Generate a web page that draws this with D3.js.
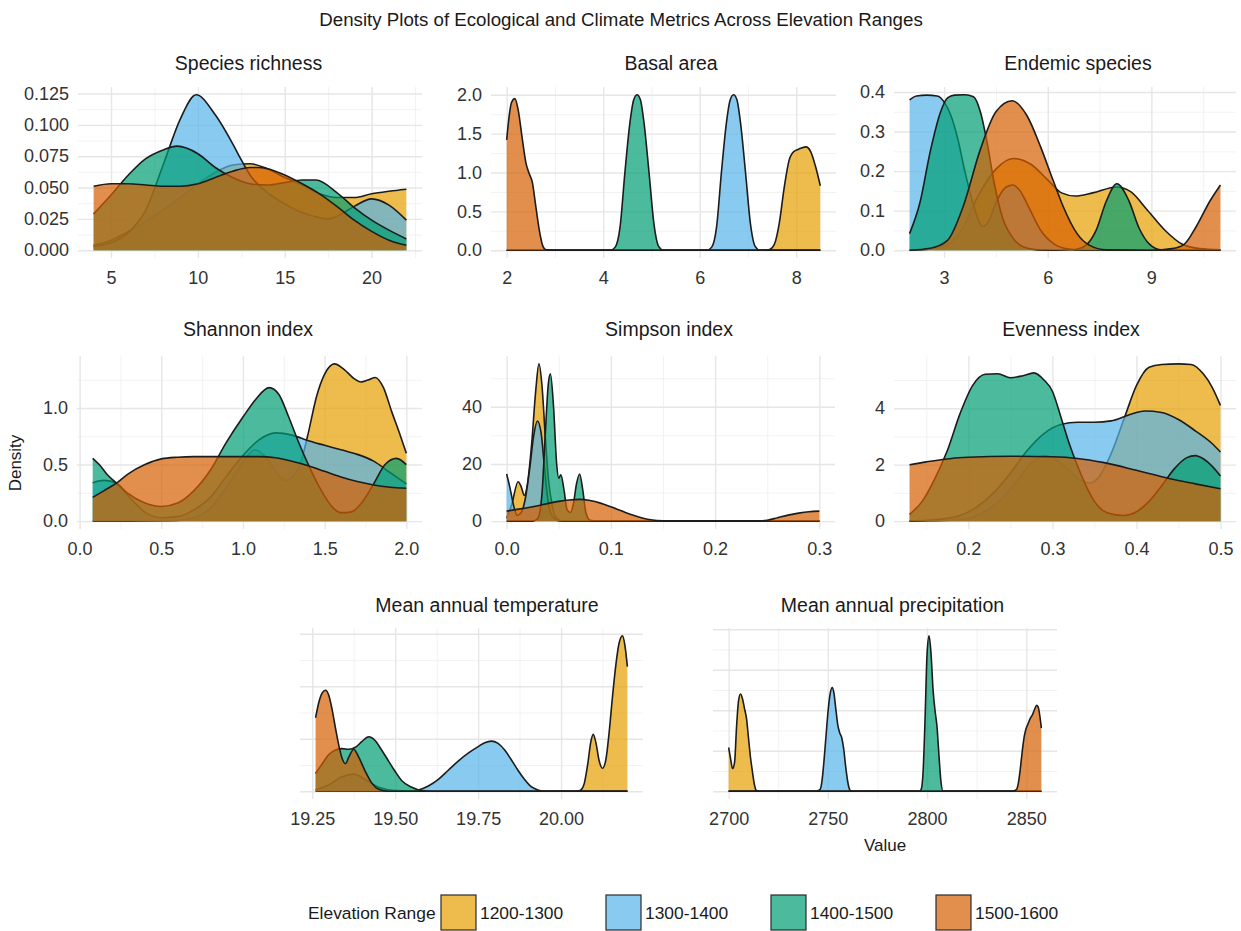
<!DOCTYPE html>
<html><head><meta charset="utf-8">
<script src="https://cdn.jsdelivr.net/npm/d3@7"></script>
<style>
html,body{margin:0;padding:0;background:#fff;}
svg text{font-family:"Liberation Sans", Arial, Helvetica, sans-serif;}
</style></head><body>
<svg id="chart" width="1241" height="931"></svg>
<script>
// ---------------- DATA ----------------
const seriesNames = ["1200-1300", "1300-1400", "1400-1500", "1500-1600"];
const seriesColors = ["#E69F00", "#56B4E9", "#009E73", "#D55E00"];

// Species richness
const richness1200 = [[4,.004],[5,.008],[6,.015],[7,.023],[8,.032],[9,.042],[10,.053],[11,.062],[12,.068],[13,.069],[14,.065],[15,.058],[16,.052],[17,.045],[18,.042],[19,.042],[20,.045],[21,.047],[22,.0486]];
const richness1300 = [[4,.003],[5,.006],[6,.014],[7,.032],[8,.068],[9,.105],[9.9,.124],[11,.108],[12,.085],[12.5,.072],[13,.060],[14,.046],[15,.037],[16,.030],[17,.026],[17.5,.025],[18,.027],[19,.035],[20,.041],[21,.036],[22,.024]];
const richness1400 = [[4,.029],[5,.044],[6,.060],[7,.073],[8,.080],[8.8,.083],[10,.077],[11,.066],[12,.058],[13,.053],[14,.052],[15,.054],[16,.056],[16.8,.056],[18,.046],[19,.034],[20,.024],[21,.016],[22,.009]];
const richness1500 = [[4,.051],[5,.053],[6,.053],[7,.052],[8,.051],[9,.051],[10,.053],[11,.058],[12,.063],[13,.066],[13.5,.066],[14,.065],[15,.060],[16,.053],[17,.045],[18,.035],[19,.024],[20,.015],[21,.008],[22,.004]];
const richnessXTicks = [5, 10, 15, 20];
const richnessYTicks = [0, 0.025, 0.05, 0.075, 0.1, 0.125];
const richnessYLabels = ["0.000", "0.025", "0.050", "0.075", "0.100", "0.125"];

// Basal area
const basal1200 = [[2,0],[7.35,0],[7.45,.01],[7.55,.08],[7.65,.35],[7.75,.8],[7.85,1.15],[7.95,1.27],[8.05,1.3],[8.2,1.33],[8.3,1.27],[8.4,1.08],[8.5,.83]];
const basal1300 = [[2,0],[6.15,0],[6.25,.04],[6.35,.3],[6.45,1.0],[6.55,1.62],[6.63,1.93],[6.7,2.0],[6.77,1.94],[6.85,1.62],[6.95,1.0],[7.05,.35],[7.15,.05],[7.25,0],[8.5,0]];
const basal1400 = [[2,0],[4.15,0],[4.25,.04],[4.35,.3],[4.45,1.0],[4.55,1.62],[4.63,1.93],[4.7,2.0],[4.77,1.94],[4.85,1.62],[4.95,1.0],[5.05,.35],[5.15,.05],[5.25,0],[8.5,0]];
const basal1500 = [[2,1.42],[2.05,1.72],[2.1,1.9],[2.17,1.95],[2.24,1.8],[2.32,1.45],[2.4,1.12],[2.47,.98],[2.53,.88],[2.6,.58],[2.67,.28],[2.74,.07],[2.8,.01],[2.9,0],[8.5,0]];
const basalXTicks = [2, 4, 6, 8];
const basalYTicks = [0, 0.5, 1, 1.5, 2];
const basalYLabels = ["0.0", "0.5", "1.0", "1.5", "2.0"];

// Endemic species
const endemic1200 = [[2,0],[2.5,.002],[3,.01],[3.5,.05],[4,.14],[4.5,.205],[5,.232],[5.5,.218],[6,.178],[6.4,.145],[6.8,.137],[7.3,.145],[8,.16],[8.4,.148],[8.9,.1],[9.4,.05],[9.9,.015],[10.4,.004],[11,.001]];
const endemic1300 = [[2,.38],[2.2,.39],[2.5,.392],[2.8,.39],[3.0,.375],[3.2,.34],[3.4,.28],[3.6,.2],[3.8,.13],[4.0,.075],[4.12,.06],[4.3,.075],[4.5,.12],[4.8,.16],[5.0,.165],[5.2,.15],[5.5,.1],[5.8,.05],[6.2,.015],[6.6,.003],[7,0],[11,0]];
const endemic1400 = [[2,.042],[2.3,.12],[2.6,.25],[2.9,.35],[3.1,.385],[3.3,.392],[3.6,.393],[3.85,.388],[4.05,.35],[4.25,.27],[4.45,.17],[4.7,.08],[5.0,.03],[5.3,.008],[5.7,.001],[6.2,0],[6.8,.002],[7.1,.012],[7.4,.05],[7.7,.125],[8.0,.168],[8.35,.125],[8.65,.055],[8.95,.015],[9.3,.001],[11,0]];
const endemic1500 = [[2,0],[2.6,.005],[3.1,.025],[3.55,.11],[4.05,.255],[4.5,.35],[4.97,.378],[5.4,.34],[5.8,.26],[6.15,.178],[6.45,.11],[6.85,.042],[7.2,.013],[7.7,.001],[9.0,0],[9.6,.004],[9.95,.015],[10.3,.06],[10.7,.125],[11,.165]];
const endemicXTicks = [3, 6, 9];
const endemicYTicks = [0, 0.1, 0.2, 0.3, 0.4];
const endemicYLabels = ["0.0", "0.1", "0.2", "0.3", "0.4"];

// Shannon index
const shannon1200 = [[.08,0],[.3,0],[.55,.003],[.65,.015],[.72,.04],[.8,.11],[.9,.3],[1.0,.52],[1.07,.63],[1.15,.55],[1.21,.42],[1.26,.36],[1.31,.4],[1.36,.55],[1.4,.78],[1.45,1.1],[1.5,1.3],[1.56,1.39],[1.62,1.34],[1.68,1.26],[1.72,1.23],[1.77,1.25],[1.81,1.27],[1.86,1.18],[1.91,.97],[1.96,.77],[2.0,.6]];
const shannon1300 = [[.08,.34],[.15,.36],[.23,.33],[.3,.22],[.4,.08],[.5,.03],[.6,.04],[.7,.1],[.8,.21],[.9,.4],[1.0,.58],[1.1,.72],[1.2,.78],[1.3,.76],[1.4,.71],[1.5,.67],[1.6,.63],[1.7,.59],[1.8,.53],[1.9,.43],[2.0,.33]];
const shannon1400 = [[.08,.555],[.12,.5],[.17,.41],[.23,.33],[.3,.24],[.4,.16],[.5,.13],[.6,.16],[.7,.27],[.8,.45],[.9,.7],[1.0,.92],[1.08,1.08],[1.16,1.18],[1.22,1.12],[1.28,.92],[1.34,.7],[1.4,.5],[1.48,.27],[1.55,.12],[1.6,.075],[1.66,.08],[1.72,.15],[1.8,.33],[1.87,.5],[1.94,.555],[2.0,.5]];
const shannon1500 = [[.08,.21],[.15,.27],[.23,.34],[.3,.42],[.4,.5],[.5,.55],[.6,.565],[.7,.57],[.8,.57],[.9,.57],[1.0,.57],[1.1,.57],[1.2,.56],[1.3,.53],[1.4,.49],[1.5,.44],[1.6,.39],[1.7,.35],[1.8,.32],[1.9,.3],[2.0,.29]];
const shannonXTicks = [0, 0.5, 1, 1.5, 2];
const shannonXLabels = ["0.0", "0.5", "1.0", "1.5", "2.0"];
const shannonYTicks = [0, 0.5, 1];
const shannonYLabels = ["0.0", "0.5", "1.0"];

// Simpson index
const simpson1200 = [[0,1],[.005,6],[.011,13.8],[.014,12],[.017,9],[.02,13],[.024,27],[.028,46],[.031,55],[.034,47],[.037,30],[.04,15],[.044,5],[.048,1],[.055,0],[.3,0]];
const simpson1300 = [[0,16.5],[.003,12],[.007,5],[.01,2],[.014,3],[.018,8],[.022,18],[.026,30],[.0295,35],[.033,31],[.036,20],[.039,9],[.042,3],[.046,.8],[.05,.1],[.06,0],[.3,0]];
const simpson1400 = [[0,0],[.025,0],[.03,1],[.034,10],[.037,30],[.04,48],[.042,51.5],[.045,40],[.048,20],[.05,15],[.052,16.2],[.055,11],[.058,4],[.061,3],[.064,6],[.067,13],[.07,16.5],[.073,11],[.076,3],[.08,.3],[.09,0],[.3,0]];
const simpson1500 = [[0,3.5],[.01,4.1],[.02,4.7],[.03,5.4],[.04,6.2],[.05,6.9],[.06,7.4],[.07,7.6],[.08,7.2],[.09,6.3],[.1,5.0],[.11,3.6],[.12,2.2],[.13,1.1],[.14,.4],[.15,.1],[.16,0],[.24,0],[.25,.3],[.26,1.2],[.27,2.1],[.28,2.8],[.29,3.3],[.3,3.5]];
const simpsonXTicks = [0, 0.1, 0.2, 0.3];
const simpsonXLabels = ["0.0", "0.1", "0.2", "0.3"];
const simpsonYTicks = [0, 20, 40];
const simpsonYLabels = ["0", "20", "40"];

// Evenness index
const evenness1200 = [[.13,0],[.17,.02],[.2,.1],[.22,.35],[.24,.8],[.26,1.5],[.275,2.05],[.29,2.32],[.3,2.25],[.32,1.8],[.335,1.42],[.345,1.35],[.355,1.55],[.37,2.4],[.385,3.6],[.4,4.8],[.415,5.45],[.43,5.55],[.45,5.57],[.465,5.55],[.48,5.2],[.49,4.75],[.5,4.1]];
const evenness1300 = [[.13,.01],[.16,.05],[.19,.2],[.21,.5],[.23,1.0],[.25,1.7],[.27,2.5],[.29,3.1],[.31,3.42],[.33,3.5],[.35,3.5],[.37,3.55],[.39,3.75],[.41,3.9],[.43,3.85],[.45,3.6],[.47,3.2],[.49,2.75],[.5,2.45]];
const evenness1400 = [[.13,.24],[.145,.7],[.16,1.5],[.175,2.5],[.19,3.8],[.205,4.8],[.22,5.2],[.235,5.22],[.25,5.08],[.265,5.15],[.278,5.25],[.29,5.0],[.3,4.6],[.31,3.7],[.32,2.75],[.33,1.95],[.34,1.25],[.35,.7],[.365,.3],[.385,.2],[.4,.33],[.415,.7],[.43,1.25],[.445,1.85],[.46,2.25],[.47,2.32],[.48,2.2],[.49,1.95],[.5,1.6]];
const evenness1500 = [[.13,2.0],[.15,2.1],[.18,2.22],[.2,2.26],[.25,2.3],[.3,2.28],[.33,2.22],[.36,2.08],[.4,1.8],[.44,1.5],[.47,1.32],[.5,1.15]];
const evennessXTicks = [0.2, 0.3, 0.4, 0.5];
const evennessXLabels = ["0.2", "0.3", "0.4", "0.5"];
const evennessYTicks = [0, 2, 4];
const evennessYLabels = ["0", "2", "4"];

// Mean annual temperature
const temp1200 = [[19.26,0],[20.05,0],[20.06,.1],[20.07,.6],[20.08,2.0],[20.09,3.8],[20.097,4.33],[20.105,3.7],[20.115,2.3],[20.125,1.75],[20.135,2.4],[20.145,4.5],[20.155,7.2],[20.165,9.6],[20.175,11.3],[20.185,11.85],[20.192,11.2],[20.2,9.5]];
const temp1300 = [[19.26,.1],[19.3,.5],[19.34,1.1],[19.375,1.3],[19.41,.9],[19.45,.3],[19.5,.05],[19.55,.02],[19.57,.1],[19.6,.4],[19.63,.9],[19.66,1.6],[19.69,2.3],[19.72,2.9],[19.75,3.4],[19.77,3.7],[19.79,3.82],[19.81,3.65],[19.83,3.15],[19.85,2.4],[19.87,1.6],[19.89,.9],[19.91,.35],[19.93,.1],[19.95,0],[20.2,0]];
const temp1400 = [[19.26,1.35],[19.28,2.1],[19.3,2.8],[19.32,3.15],[19.34,3.25],[19.36,3.2],[19.38,3.35],[19.4,3.8],[19.42,4.15],[19.44,3.85],[19.46,3.1],[19.48,2.3],[19.5,1.5],[19.52,.8],[19.55,.3],[19.58,.05],[19.61,0],[20.2,0]];
const temp1500 = [[19.26,5.6],[19.27,6.8],[19.28,7.5],[19.29,7.7],[19.3,7.3],[19.31,6.2],[19.32,4.8],[19.33,3.5],[19.34,2.5],[19.35,2.1],[19.36,2.6],[19.375,3.2],[19.39,2.6],[19.41,1.5],[19.43,.6],[19.45,.15],[19.48,0],[20.2,0]];
const tempXTicks = [19.25, 19.5, 19.75, 20.0];
const tempXLabels = ["19.25", "19.50", "19.75", "20.00"];
const tempYTicks = [0, 4, 8, 12];

// Mean annual precipitation
const precip1200 = [[2700,.027],[2701,.02],[2702,.014],[2703,.018],[2704,.04],[2705,.056],[2706,.06],[2707,.057],[2708,.051],[2709,.045],[2710,.033],[2711,.021],[2712,.012],[2713,.004],[2714,.0005],[2716,0],[2857.6,0]];
const precip1300 = [[2700,0],[2744,0],[2746,.001],[2747,.006],[2748,.018],[2749,.033],[2750,.048],[2751,.059],[2752.2,.064],[2753,.061],[2754,.051],[2755,.041],[2756,.036],[2757,.033],[2758,.026],[2759,.015],[2760,.006],[2761,.001],[2762,0],[2857.6,0]];
const precip1400 = [[2700,0],[2796,0],[2797,.001],[2798,.012],[2799,.045],[2800,.085],[2801,.096],[2802,.085],[2803,.063],[2804,.05],[2805,.04],[2806,.022],[2807,.006],[2808,0],[2857.6,0]];
const precip1500 = [[2700,0],[2843,0],[2845,.001],[2846,.005],[2847,.014],[2848,.025],[2849,.034],[2850,.039],[2851,.042],[2852,.045],[2853,.047],[2854,.05],[2855.2,.053],[2856,.052],[2857,.045],[2857.6,.039]];
const precipXTicks = [2700, 2750, 2800, 2850];
const precipYTicks = [0, 0.025, 0.05, 0.075, 0.1];

// ---------------- LAYOUT ----------------
const panels = [
  {title:"Species richness", series:[richness1200,richness1300,richness1400,richness1500], xTicks:richnessXTicks, xLabels:null, yTicks:richnessYTicks, yLabels:richnessYLabels, box:{x:78,y:87,w:344,h:171}, tx:248.5, ty:70},
  {title:"Basal area", series:[basal1200,basal1300,basal1400,basal1500], xTicks:basalXTicks, xLabels:null, yTicks:basalYTicks, yLabels:basalYLabels, box:{x:491,y:87,w:345,h:171}, tx:671, ty:70},
  {title:"Endemic species", series:[endemic1200,endemic1300,endemic1400,endemic1500], xTicks:endemicXTicks, xLabels:null, yTicks:endemicYTicks, yLabels:endemicYLabels, box:{x:894,y:87,w:342,h:171}, tx:1078, ty:70},
  {title:"Shannon index", series:[shannon1200,shannon1300,shannon1400,shannon1500], xTicks:shannonXTicks, xLabels:shannonXLabels, yTicks:shannonYTicks, yLabels:shannonYLabels, box:{x:77,y:356,w:345,h:173}, tx:248, ty:336},
  {title:"Simpson index", series:[simpson1200,simpson1300,simpson1400,simpson1500], xTicks:simpsonXTicks, xLabels:simpsonXLabels, yTicks:simpsonYTicks, yLabels:simpsonYLabels, box:{x:491,y:356,w:344,h:173}, tx:669, ty:336},
  {title:"Evenness index", series:[evenness1200,evenness1300,evenness1400,evenness1500], xTicks:evennessXTicks, xLabels:evennessXLabels, yTicks:evennessYTicks, yLabels:evennessYLabels, box:{x:894,y:356,w:342,h:173}, tx:1071, ty:336},
  {title:"Mean annual temperature", series:[temp1200,temp1300,temp1400,temp1500], xTicks:tempXTicks, xLabels:tempXLabels, yTicks:tempYTicks, yLabels:null, box:{x:300,y:628,w:343,h:171}, tx:487, ty:612},
  {title:"Mean annual precipitation", series:[precip1200,precip1300,precip1400,precip1500], xTicks:precipXTicks, xLabels:null, yTicks:precipYTicks, yLabels:null, box:{x:713,y:628,w:344,h:171}, tx:892.5, ty:612}
];

const svg = d3.select("#chart");
svg.append("rect").attr("width",1241).attr("height",931).attr("fill","#fff");

function minorTicks(ticks, dom){
  const step = ticks[1]-ticks[0];
  const out = [];
  for (let i=-1; i<ticks.length+1; i++){
    const v = ticks[0] + (i+0.5)*step;
    if (v > dom[0] && v < dom[1]) out.push(v);
  }
  return out;
}

const TICK_COLOR = "#333";
panels.forEach(p => {
  const g = svg.append("g");
  const all = p.series.flat();
  const xmin = d3.min(all, d=>d[0]), xmax = d3.max(all, d=>d[0]);
  const ymax = d3.max(all, d=>d[1]);
  const xpad = (xmax-xmin)*0.05;
  const x = d3.scaleLinear().domain([xmin-xpad, xmax+xpad]).range([p.box.x, p.box.x+p.box.w]);
  const y = d3.scaleLinear().domain([-0.05*ymax, 1.05*ymax]).range([p.box.y+p.box.h, p.box.y]);
  const bottom = p.box.y + p.box.h;

  // minor grid
  const gx2 = g.append("g").attr("transform",`translate(0,${bottom})`)
    .call(d3.axisBottom(x).tickValues(minorTicks(p.xTicks, x.domain())).tickSize(-p.box.h).tickFormat(""));
  const gy2 = g.append("g").attr("transform",`translate(${p.box.x},0)`)
    .call(d3.axisLeft(y).tickValues(minorTicks(p.yTicks, y.domain())).tickSize(-p.box.w).tickFormat(""));
  [gx2, gy2].forEach(a => { a.select(".domain").remove(); a.selectAll("line").attr("stroke","#F0F0F0").attr("stroke-width",0.9); });
  // major grid
  const gx = g.append("g").attr("transform",`translate(0,${bottom})`)
    .call(d3.axisBottom(x).tickValues(p.xTicks).tickSize(-p.box.h).tickFormat(""));
  const gy = g.append("g").attr("transform",`translate(${p.box.x},0)`)
    .call(d3.axisLeft(y).tickValues(p.yTicks).tickSize(-p.box.w).tickFormat(""));
  [gx, gy].forEach(a => { a.select(".domain").remove(); a.selectAll("line").attr("stroke","#E6E6E6").attr("stroke-width",1.4); });

  // densities
  const area = d3.area().curve(d3.curveMonotoneX).x(d=>x(d[0])).y0(y(0)).y1(d=>y(d[1]));
  const line = d3.line().curve(d3.curveMonotoneX).x(d=>x(d[0])).y(d=>y(d[1]));
  p.series.forEach((s,i) => {
    g.append("path").datum(s).attr("d",area).attr("fill",seriesColors[i]).attr("fill-opacity",0.7);
    g.append("path").datum(s).attr("d",line).attr("fill","none").attr("stroke","#1c1c1c").attr("stroke-width",1.6).attr("stroke-linejoin","round");
  });

  // tick labels
  const ax = g.append("g").attr("transform",`translate(0,${bottom})`)
    .call(d3.axisBottom(x).tickValues(p.xTicks).tickSize(0).tickPadding(13)
      .tickFormat((d,i)=> p.xLabels ? p.xLabels[i] : d3.format("~g")(d)));
  ax.select(".domain").remove();
  ax.selectAll("text").attr("font-size",18).attr("fill",TICK_COLOR).attr("font-family",null);
  if (p.yLabels){
    const ay = g.append("g").attr("transform",`translate(${p.box.x},0)`)
      .call(d3.axisLeft(y).tickValues(p.yTicks).tickSize(0).tickPadding(9).tickFormat((d,i)=>p.yLabels[i]));
    ay.select(".domain").remove();
    ay.selectAll("text").attr("font-size",18).attr("fill",TICK_COLOR).attr("font-family",null);
  }
  g.append("text").attr("x",p.tx).attr("y",p.ty).attr("text-anchor","middle")
    .attr("font-size",19.5).attr("fill","#1a1a1a").text(p.title);
});

// main title and axis titles
svg.append("text").attr("x",621).attr("y",26).attr("text-anchor","middle")
  .attr("font-size",18.7).attr("fill","#1a1a1a")
  .text("Density Plots of Ecological and Climate Metrics Across Elevation Ranges");
svg.append("text").attr("transform","translate(21,463) rotate(-90)").attr("text-anchor","middle")
  .attr("font-size",17).attr("fill","#1a1a1a").text("Density");
svg.append("text").attr("x",885).attr("y",851).attr("text-anchor","middle")
  .attr("font-size",17).attr("fill","#1a1a1a").text("Value");

// legend
const legend = svg.append("g");
legend.append("text").attr("x",308).attr("y",919).attr("font-size",17.4).attr("fill","#1a1a1a").text("Elevation Range");
const legendX = d3.scalePoint().domain(seriesNames).range([441, 936]);
seriesNames.forEach((n,i) => {
  const kx = legendX(n);
  legend.append("rect").attr("x",kx).attr("y",895).attr("width",35).attr("height",35)
    .attr("fill",seriesColors[i]).attr("fill-opacity",0.7).attr("stroke","#2a2a2a").attr("stroke-width",1.2);
  legend.append("text").attr("x",kx+39).attr("y",919).attr("font-size",17.4).attr("fill","#1a1a1a").text(n);
});
</script>
</body></html>
